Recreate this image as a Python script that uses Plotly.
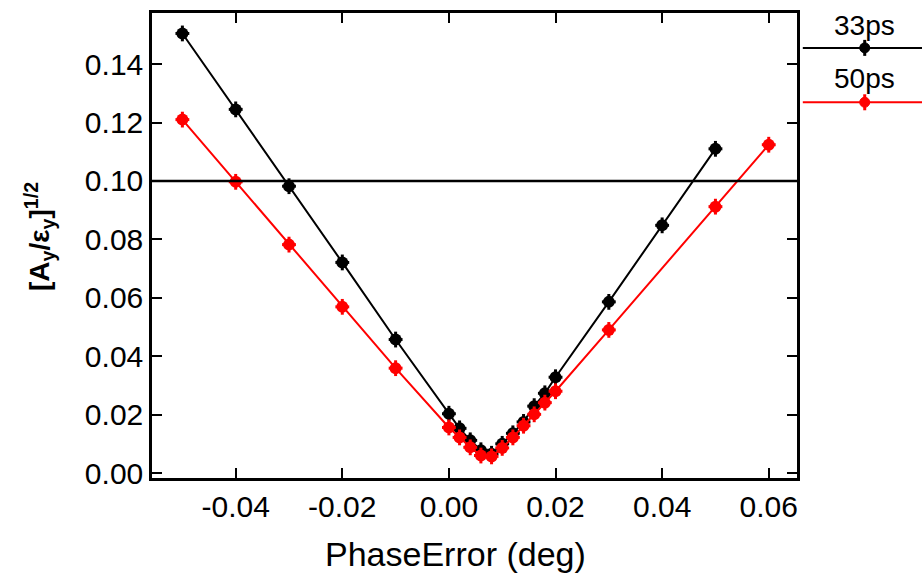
import plotly.graph_objects as go

# ---- data ----
x_33 = [-0.05, -0.04, -0.03, -0.02, -0.01, 0.000, 0.002, 0.004, 0.006, 0.008, 0.010,
        0.012, 0.014, 0.016, 0.018, 0.020, 0.03, 0.04, 0.05]
y_33 = [0.1505, 0.1245, 0.0982, 0.0721, 0.0457, 0.0203, 0.0153, 0.0112, 0.0078, 0.0066, 0.0100,
        0.0136, 0.0175, 0.0229, 0.0273, 0.0328, 0.0586, 0.0848, 0.1110]

x_50 = [-0.05, -0.04, -0.03, -0.02, -0.01, 0.000, 0.002, 0.004, 0.006, 0.008, 0.010,
        0.012, 0.014, 0.016, 0.018, 0.020, 0.03, 0.05, 0.06]
y_50 = [0.1210, 0.0997, 0.0782, 0.0569, 0.0359, 0.0156, 0.0122, 0.0088, 0.0060, 0.0057, 0.0086,
        0.0122, 0.0162, 0.0201, 0.0241, 0.0280, 0.0490, 0.0912, 0.1124]

err_y = 0.0027
err_x = 0.0013
ref_level = 0.10

series_names = ["33ps", "50ps"]
series_colors = ["black", "red"]
x_ticks = [-0.04, -0.02, 0.00, 0.02, 0.04, 0.06]
x_tick_labels = ["-0.04", "-0.02", "0.00", "0.02", "0.04", "0.06"]
y_ticks = [0.00, 0.02, 0.04, 0.06, 0.08, 0.10, 0.12, 0.14]
y_tick_labels = ["0.00", "0.02", "0.04", "0.06", "0.08", "0.10", "0.12", "0.14"]

FONT = "Liberation Sans"

fig = go.Figure()
for xs, ys, name, col in [(x_33, y_33, series_names[0], series_colors[0]),
                          (x_50, y_50, series_names[1], series_colors[1])]:
    fig.add_trace(go.Scatter(
        x=xs, y=ys, mode="lines+markers", name=name,
        line=dict(color=col, width=2),
        marker=dict(color=col, size=12, symbol="circle"),
        error_y=dict(type="constant", value=err_y, color=col, thickness=3, width=0),
        error_x=dict(type="constant", value=err_x, color=col, thickness=3, width=0),
        showlegend=False,
    ))

# reference line at 0.10
fig.add_shape(type="line", xref="paper", x0=0, x1=1, yref="y", y0=ref_level, y1=ref_level,
              line=dict(color="black", width=2.5))

# custom legend (text above line sample)
leg_y_text = [0.974, 0.860]
leg_y_line = [0.925, 0.808]
for name, col, yt, yl in zip(series_names, series_colors, leg_y_text, leg_y_line):
    fig.add_annotation(text=name, xref="paper", yref="paper", x=1.105, y=yt,
                       showarrow=False, font=dict(family=FONT, size=28, color="black"),
                       xanchor="center", yanchor="middle")
    fig.add_shape(type="line", xref="paper", yref="paper", x0=1.009, x1=1.2,
                  y0=yl, y1=yl, line=dict(color=col, width=2))
    fig.add_shape(type="circle", xref="paper", yref="paper", xsizemode="pixel",
                  ysizemode="pixel", xanchor=1.105, yanchor=yl,
                  x0=-5, x1=5, y0=-5, y1=5, fillcolor=col, line=dict(color=col, width=1))
    fig.add_shape(type="line", xref="paper", yref="paper", xsizemode="pixel",
                  ysizemode="pixel", xanchor=1.105, yanchor=yl,
                  x0=0, x1=0, y0=-8, y1=8, line=dict(color=col, width=3))

# axis titles as annotations (positioned like the reference)
fig.add_annotation(text="PhaseError (deg)", xref="paper", yref="paper", x=0.471, y=-0.118,
                   showarrow=False, xanchor="center", yanchor="top",
                   font=dict(family=FONT, size=34, color="black"))
fig.add_annotation(text="<b>[A<sub>y</sub>/ε<sub>y</sub>]<sup>1/2</sup></b>",
                   xref="paper", yref="paper", x=-0.174, y=0.52, textangle=-90,
                   showarrow=False, xanchor="center", yanchor="middle",
                   font=dict(family=FONT, size=28, color="black"))

axis_common = dict(showline=True, linecolor="black", linewidth=2.5, mirror="ticks",
                   ticks="inside", ticklen=10, tickwidth=2, tickcolor="black",
                   showgrid=False, zeroline=False,
                   tickfont=dict(family=FONT, size=30, color="black"))

fig.update_xaxes(range=[-0.0557, 0.0653], tickvals=x_ticks, ticktext=x_tick_labels,
                 **axis_common)
fig.update_yaxes(range=[-0.0017, 0.1575], tickvals=y_ticks, ticktext=y_tick_labels,
                 **axis_common)

fig.update_layout(
    width=922, height=580,
    margin=dict(l=152, r=125, t=10, b=102),
    plot_bgcolor="white", paper_bgcolor="white",
    font=dict(family=FONT, color="black"),
)

fig.write_html("out.html")
